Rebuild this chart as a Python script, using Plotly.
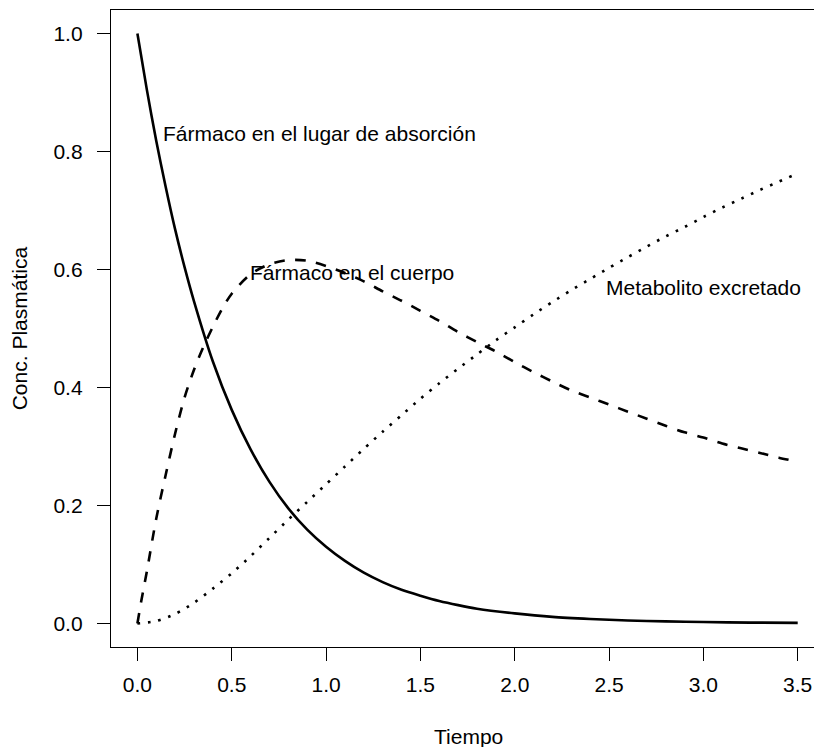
import plotly.graph_objects as go

# --- data ---
t_abs = [0, 0.05, 0.1, 0.15, 0.2, 0.25, 0.3, 0.4, 0.5, 0.6, 0.7, 0.8, 0.9, 1.0, 1.1, 1.2,
         1.3, 1.4, 1.5, 1.6, 1.7, 1.8, 2.0, 2.2, 2.4, 2.6, 2.8, 3.0, 3.25, 3.5]
c_abs = [1.0, 0.905, 0.818, 0.740, 0.668, 0.604, 0.546, 0.444, 0.362, 0.295, 0.240, 0.195,
         0.159, 0.130, 0.106, 0.086, 0.070, 0.057, 0.047, 0.038, 0.031, 0.025, 0.017, 0.011,
         0.0075, 0.005, 0.0035, 0.0023, 0.0014, 0.0009]

t_body = [0, 0.02, 0.05, 0.1, 0.15, 0.2, 0.25, 0.3, 0.35, 0.4, 0.45, 0.5, 0.6, 0.7, 0.8, 0.9,
          1.0, 1.1, 1.2, 1.3, 1.4, 1.5, 1.6, 1.7, 1.8, 1.9, 2.0, 2.1, 2.2, 2.3, 2.4, 2.5, 2.6,
          2.7, 2.8, 2.9, 3.0, 3.1, 3.2, 3.3, 3.4, 3.5]
c_body = [0, 0.037, 0.088, 0.178, 0.252, 0.322, 0.383, 0.430, 0.469, 0.503, 0.534, 0.559,
          0.592, 0.609, 0.616, 0.615, 0.606, 0.594, 0.580, 0.563, 0.547, 0.530, 0.513, 0.494,
          0.477, 0.461, 0.443, 0.426, 0.410, 0.395, 0.383, 0.371, 0.359, 0.347, 0.335, 0.324,
          0.315, 0.305, 0.297, 0.289, 0.281, 0.274]

t_met = [0, 0.1, 0.2, 0.3, 0.4, 0.5, 0.6, 0.7, 0.8, 0.9, 1.0, 1.1, 1.2, 1.3, 1.4, 1.5, 1.6,
         1.7, 1.8, 1.9, 2.0, 2.1, 2.2, 2.3, 2.4, 2.5, 2.6, 2.7, 2.8, 2.9, 3.0, 3.1, 3.2, 3.3,
         3.4, 3.5]
c_met = [0, 0.004, 0.016, 0.035, 0.059, 0.085, 0.114, 0.145, 0.176, 0.206, 0.236, 0.266,
         0.296, 0.325, 0.353, 0.381, 0.407, 0.432, 0.456, 0.480, 0.502, 0.524, 0.545, 0.565,
         0.584, 0.603, 0.621, 0.639, 0.656, 0.672, 0.689, 0.705, 0.720, 0.735, 0.749, 0.763]

labels = ["Fármaco en el lugar de absorción", "Fármaco en el cuerpo", "Metabolito excretado"]
label_x = [0.964, 1.14, 3.003]
label_y = [0.831, 0.595, 0.570]

x_ticks = [0, 0.5, 1.0, 1.5, 2.0, 2.5, 3.0, 3.5]
y_ticks = [0, 0.2, 0.4, 0.6, 0.8, 1.0]

FONT = "Liberation Sans, Arial, Helvetica, sans-serif"
FS = 21
LW = 2.6

fig = go.Figure()
fig.add_trace(go.Scatter(x=t_abs, y=c_abs, mode="lines", line=dict(color="black", width=LW, shape="spline", smoothing=0.8)))
fig.add_trace(go.Scatter(x=t_body, y=c_body, mode="lines", line=dict(color="black", width=LW, dash="10.5px,10.5px", shape="spline", smoothing=0.8)))
fig.add_trace(go.Scatter(x=t_met, y=c_met, mode="lines", line=dict(color="black", width=LW, dash="2.6px,7.9px", shape="spline", smoothing=0.8)))

for txt, lx, ly in zip(labels, label_x, label_y):
    fig.add_annotation(x=lx, y=ly, text=txt, showarrow=False, xanchor="center", yanchor="middle",
                       font=dict(family=FONT, size=FS, color="black"))

W, H = 814, 747
L, R, T, B = 110.9, 0, 9.7, 100.1
pw, ph = W - L - R, H - T - B

# axis titles
fig.add_annotation(text="Tiempo", xref="paper", yref="paper", x=(468 - L) / pw, y=(H - B - 736) / ph,
                   showarrow=False, xanchor="center", yanchor="middle", font=dict(family=FONT, size=FS, color="black"))
fig.add_annotation(text="Conc. Plasmática", xref="paper", yref="paper", x=(19 - L) / pw, y=(H - B - 328) / ph,
                   showarrow=False, xanchor="center", yanchor="middle", textangle=-90,
                   font=dict(family=FONT, size=FS, color="black"))

fig.update_layout(
    width=W, height=H, margin=dict(l=L, r=R, t=T, b=B, pad=0),
    paper_bgcolor="white", plot_bgcolor="white", showlegend=False,
    font=dict(family=FONT, size=FS, color="black"),
)
fig.update_xaxes(range=[-0.14, 3.5864], tickvals=x_ticks, tickformat=".1f", ticks="outside", ticklen=13,
                 tickwidth=1.3, tickcolor="black", showline=True, linecolor="black", linewidth=1.3, mirror=True,
                 showgrid=False, zeroline=False, ticklabelstandoff=6)
fig.update_yaxes(range=[-0.04, 1.04], tickvals=y_ticks, tickformat=".1f", ticks="outside", ticklen=13,
                 tickwidth=1.3, tickcolor="black", showline=True, linecolor="black", linewidth=1.3,
                 showgrid=False, zeroline=False, ticklabelstandoff=10)

fig.write_html("out.html")
